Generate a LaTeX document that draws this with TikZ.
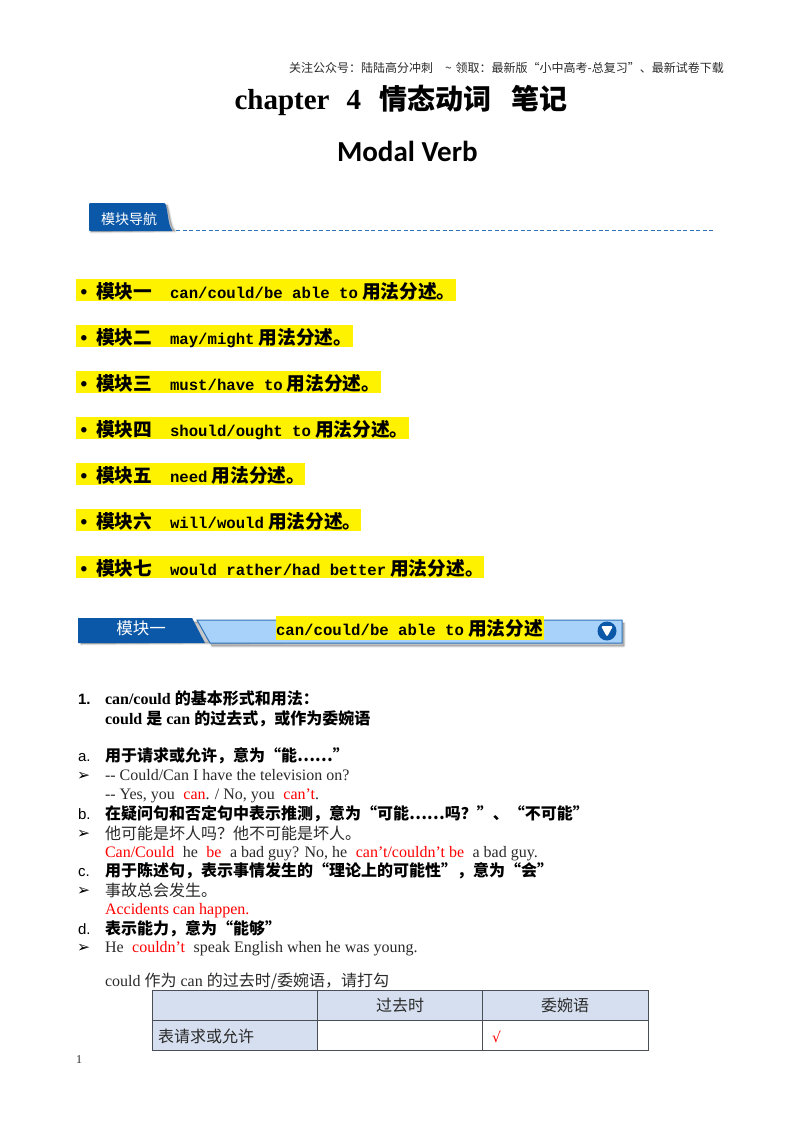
\documentclass[tikz,border=0pt]{standalone}
\usepackage{fontspec}
\setmainfont{Liberation Serif}
\newfontfamily\cjkfont{Noto Sans CJK SC}
\newfontfamily\monofont{Liberation Mono}
\newfontfamily\calfont{Carlito}
\newfontfamily\djfont{DejaVu Sans}
\newfontfamily\lsansfont{Liberation Sans}
\newcommand{\zh}[1]{{\cjkfont #1}}
\newcommand{\rd}[1]{\textcolor{red}{#1}}
\newcommand{\fsz}[1]{\fontsize{#1pt}{#1pt}\selectfont}
\newcommand{\gp}{\hspace{8.5pt}}
\definecolor{navy}{HTML}{0B58A8}
\definecolor{lightb}{HTML}{A9D2FA}
\definecolor{edgeb}{HTML}{2E72B8}
\definecolor{cellb}{HTML}{D6DFEF}
\definecolor{gridc}{HTML}{4A4F55}
\definecolor{greytx}{HTML}{2A2A2A}
\tikzset{
 x=1pt,y=-1pt,
 tx/.style={anchor=base west,inner sep=0pt,outer sep=0pt,font=\fsz{16},text=black},
 hl/.style={fill=yellow,draw=none,anchor=north west,inner sep=0pt,outer sep=0pt,minimum height=22pt},
 item/.style={tx,font=\fsz{18.7}\bfseries},
 cell/.style={draw=gridc,line width=1pt,anchor=north west,inner sep=0pt,outer sep=0pt,minimum height=30pt},
 blue cell/.style={cell,fill=cellb},
 soft/.style={fill=black,draw=black,opacity=.08,line join=round},
 arrowmark/.style={tx,font=\fsz{15.5}\djfont},
}
\begin{document}
\begin{tikzpicture}
\useasboundingbox (0,0) rectangle (800,1132);
\fill[white] (0,0) rectangle (800,1132);
% header
\node[tx,font=\fsz{12}] (hdr) at (289,72) {\zh{\color{greytx}关注公众号：陆陆高分冲刺\hspace{12pt}\~{}\hspace{4pt}领取：最新版“小中高考-总复习”、最新试卷下载}};
\node[tx,font=\fsz{29}\bfseries] (title) at (234.5,109) {chapter\hspace{17pt}4\hspace{18pt}\fsz{28}\zh{情态动词\hspace{20pt}笔记}};
\node[tx,font=\fsz{29}\bfseries\calfont] (sub) at (337,161) {Modal Verb};
% nav tab
\foreach \w in {3,1.5,0.2}
 \path[soft,line width=\w pt] (91,207) -- (167,205) .. controls (170,212) and (170,226) .. (175,231) -- (91,232) -- cycle;
\fill[navy,rounded corners=1pt] (89,203) -- (165,203) .. controls (168,210) and (168,226) .. (173,231) -- (89,231) -- cycle;
\node[font=\fsz{14},text=white,inner sep=0pt] (tab) at (129,219) {\zh{模块导航}};
\coordinate (dashstart) at (176,230);
\coordinate (dashend) at (714,230);
\draw[edgeb,line width=1pt,dash pattern=on 4pt off 2.5pt] (dashstart) -- (dashend);
% highlights
\node[hl,minimum width=380pt] (h1) at (76,279) {};
\node[hl,minimum width=277pt] (h2) at (76,325) {};
\node[hl,minimum width=305pt] (h3) at (76,371) {};
\node[hl,minimum width=333pt] (h4) at (76,417) {};
\node[hl,minimum width=229pt] (h5) at (76,463) {};
\node[hl,minimum width=285pt] (h6) at (76,509) {};
\node[hl,minimum width=408pt] (h7) at (76,556) {};
\newcommand{\itemrow}[5]{%
 \node[tx,font=\fsz{19}\bfseries\lsansfont] (b#1) at (80.5,#2) {•};
 \node[item] (m#1) at (96,#2) {\zh{#3}};
 \node[item] (t#1) at (170,#2) {\fsz{15.67}\monofont #4\hspace{4pt}\fsz{18.7}\zh{#5}};
}
\itemrow{1}{298}{模块一}{can/could/be able to}{用法分述。}
\itemrow{2}{344}{模块二}{may/might}{用法分述。}
\itemrow{3}{390}{模块三}{must/have to}{用法分述。}
\itemrow{4}{436}{模块四}{should/ought to}{用法分述。}
\itemrow{5}{482}{模块五}{need}{用法分述。}
\itemrow{6}{528}{模块六}{will/would}{用法分述。}
\itemrow{7}{575}{模块七}{would rather/had better}{用法分述。}
% banner
\foreach \w in {3,1.5,0.2}
 \path[soft,line width=\w pt] (81,622) -- (200,622) -- (212,646) -- (624,646) -- (624,623) -- (620,623) -- (620,640) -- (81,644) -- cycle;
\fill[lightb,draw=edgeb,line width=1pt] (197,620) -- (622,620) -- (622,643) -- (210,643) -- cycle;
\fill[navy] (78,618) -- (192,618) -- (205,643) -- (78,643) -- cycle;
\node[font=\fsz{16.5},text=white,inner sep=0pt] (bt) at (141,628) {\zh{模块一}};
\node[hl,minimum width=268pt,minimum height=24pt] (bh) at (276,616) {};
\node[item] (bl) at (276,635) {\fsz{15.67}\monofont can/could/be able to\hspace{4pt}\fsz{18.7}\zh{用法分述}};
\node[circle,fill=navy,minimum size=19pt,inner sep=0pt] (ic) at (607,631) {};
\fill[white,rounded corners=1.5pt] (601,626) -- (613,626) -- (607,637) -- cycle;
% body
\node[tx,font=\fsz{15}\bfseries\lsansfont] (n1) at (78,704) {1.};
\node[tx,font=\fsz{16}\bfseries] (l1) at (105,704) {can/could \zh{的基本形式和用法：}};
\node[tx,font=\fsz{16}\bfseries] (l2) at (105,724) {could \zh{是} can \zh{的过去式，或作为委婉语}};
\node[tx,font=\fsz{15}\lsansfont] (la) at (78,761) {a.};
\node[tx,font=\fsz{16}\bfseries] (l3) at (105,761) {\zh{用于请求或允许，意为“能……”}};
\node[arrowmark] (ar1) at (77,780) {➢};
\node[tx,text=greytx] (l4) at (105,780) {{-}{-} Could/Can I have the television on?};
\node[tx,text=greytx] (l5) at (105,799) {{-}{-} Yes, you\gp\rd{can}. / No, you\gp\rd{can’t}.};
\node[tx,font=\fsz{15}\lsansfont] (lb) at (78,819) {b.};
\node[tx,font=\fsz{16}\bfseries] (l6) at (105,819) {\zh{在疑问句和否定句中表示推测，意为“可能……吗？”、“不可能”}};
\node[arrowmark] (ar2) at (77,838) {➢};
\node[tx,text=greytx] (l7) at (105,839) {\zh{他可能是坏人吗？他不可能是坏人。}};
\node[tx,text=greytx] (l8) at (105,857) {\rd{Can/Could}\gp he\gp\rd{be}\gp a bad guy? No, he\gp\rd{can’t/couldn’t be}\gp a bad guy.};
\node[tx,font=\fsz{15}\lsansfont] (lc) at (78,876) {c.};
\node[tx,font=\fsz{16}\bfseries] (l9) at (105,876) {\zh{用于陈述句，表示事情发生的“理论上的可能性”，意为“会”}};
\node[arrowmark] (ar3) at (77,895) {➢};
\node[tx,text=greytx] (l10) at (105,896) {\zh{事故总会发生。}};
\node[tx,text=red] (l11) at (105,914) {Accidents can happen.};
\node[tx,font=\fsz{15}\lsansfont] (ld) at (78,934) {d.};
\node[tx,font=\fsz{16}\bfseries] (l12) at (105,934) {\zh{表示能力，意为“能够”}};
\node[arrowmark] (ar4) at (77,952) {➢};
\node[tx,text=greytx] (l13) at (105,952) {He\gp\rd{couldn’t}\gp speak English when he was young.};
\node[tx,text=greytx] (l14) at (105,986) {could \zh{作为} can \zh{的过去时/委婉语，请打勾}};
% table
\node[blue cell,minimum width=165pt] (c11) at (152,990) {};
\node[blue cell,minimum width=165pt] (c12) at (317,990) {};
\node[blue cell,minimum width=166pt] (c13) at (482,990) {};
\node[blue cell,minimum width=165pt] (c21) at (152,1020) {};
\node[cell,fill=white,minimum width=165pt] (c22) at (317,1020) {};
\node[cell,fill=white,minimum width=166pt] (c23) at (482,1020) {};
\node[font=\fsz{16},text=greytx,inner sep=0pt] (t12) at (400,1005) {\zh{过去时}};
\node[font=\fsz{16},text=greytx,inner sep=0pt] (t13) at (565,1005) {\zh{委婉语}};
\node[tx,text=greytx] (t21) at (158,1042) {\zh{表请求或允许}};
\node[tx,font=\fsz{14}\djfont,text=red] (t23) at (492,1042) {√};
\node[tx,font=\fsz{12},text=greytx] (pg) at (76,1063) {1};
\end{tikzpicture}
\end{document}
